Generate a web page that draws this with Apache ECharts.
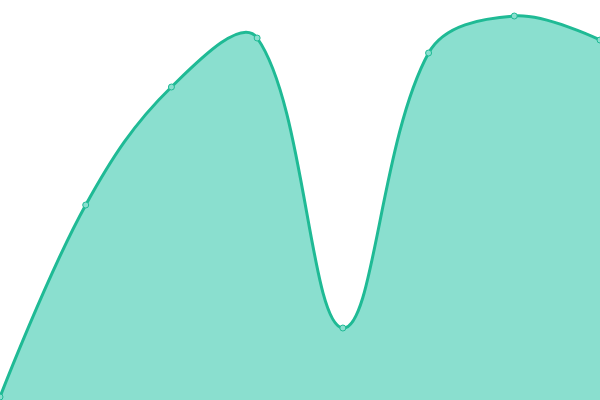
<!DOCTYPE html>
<html>
<head>
<meta charset="utf-8">
<script src="https://cdn.jsdelivr.net/npm/echarts@6/dist/echarts.min.js"></script>
<style>html,body{margin:0;padding:0;background:#fff}#main{width:600px;height:400px}</style>
</head>
<body>
<div id="main"></div>
<script>
var categories = ['1', '2', '3', '4', '5', '6', '7', '8'];
var values = [3, 195, 313, 362, 72, 347, 384, 360];

var lineColor = '#1fba95';
var areaColor = '#8adfcf';

// bezier smoothing, arm length weighted by the neighbouring segment lengths
function smoothPath(pts, smooth) {
    var n = pts.length, cps = [];
    for (var i = 0; i < n; i++) {
        var p = pts[i];
        if (i === 0 || i === n - 1) {
            cps.push([p[0], p[1]]);
            continue;
        }
        var prev = pts[i - 1], next = pts[i + 1];
        var vx = (next[0] - prev[0]) * smooth, vy = (next[1] - prev[1]) * smooth;
        var d0 = Math.hypot(p[0] - prev[0], p[1] - prev[1]);
        var d1 = Math.hypot(p[0] - next[0], p[1] - next[1]);
        var s = d0 + d1;
        if (s) { d0 /= s; d1 /= s; }
        cps.push([p[0] - vx * d0, p[1] - vy * d0]);
        cps.push([p[0] + vx * d1, p[1] + vy * d1]);
    }
    var d = 'M' + pts[0][0] + ' ' + pts[0][1];
    for (i = 0; i < n - 1; i++) {
        var c1 = cps[2 * i], c2 = cps[2 * i + 1], e = pts[i + 1];
        d += ' C' + c1[0] + ' ' + c1[1] + ' ' + c2[0] + ' ' + c2[1] + ' ' + e[0] + ' ' + e[1];
    }
    return d;
}

var myChart = echarts.init(document.getElementById('main'));
var option = {
    animation: false,
    grid: {left: 0, right: 0, top: 0, bottom: 0},
    xAxis: {
        type: 'category',
        boundaryGap: false,
        data: categories,
        show: false
    },
    yAxis: {
        type: 'value',
        min: 0,
        max: 400,
        show: false
    },
    series: [{
        type: 'custom',
        data: [[0, 0]],
        z: 2,
        renderItem: function (params, api) {
            var pts = values.map(function (v, i) { return api.coord([i, v]); });
            var base = api.coord([0, 0])[1];
            var curve = smoothPath(pts, 0.37);
            var last = pts[pts.length - 1];
            var area = curve + ' L' + last[0] + ' ' + base + ' L' + pts[0][0] + ' ' + base + ' Z';
            return {
                type: 'group',
                children: [{
                    type: 'path',
                    shape: {pathData: area},
                    style: {fill: areaColor, stroke: null}
                }, {
                    type: 'path',
                    shape: {pathData: curve},
                    style: {fill: null, stroke: lineColor, lineWidth: 3}
                }]
            };
        }
    }, {
        type: 'line',
        z: 3,
        data: values,
        symbol: 'circle',
        symbolSize: 6,
        showAllSymbol: true,
        lineStyle: {width: 0, opacity: 0},
        itemStyle: {color: areaColor, borderColor: lineColor, borderWidth: 1}
    }]
};
myChart.setOption(option);
</script>
</body>
</html>
